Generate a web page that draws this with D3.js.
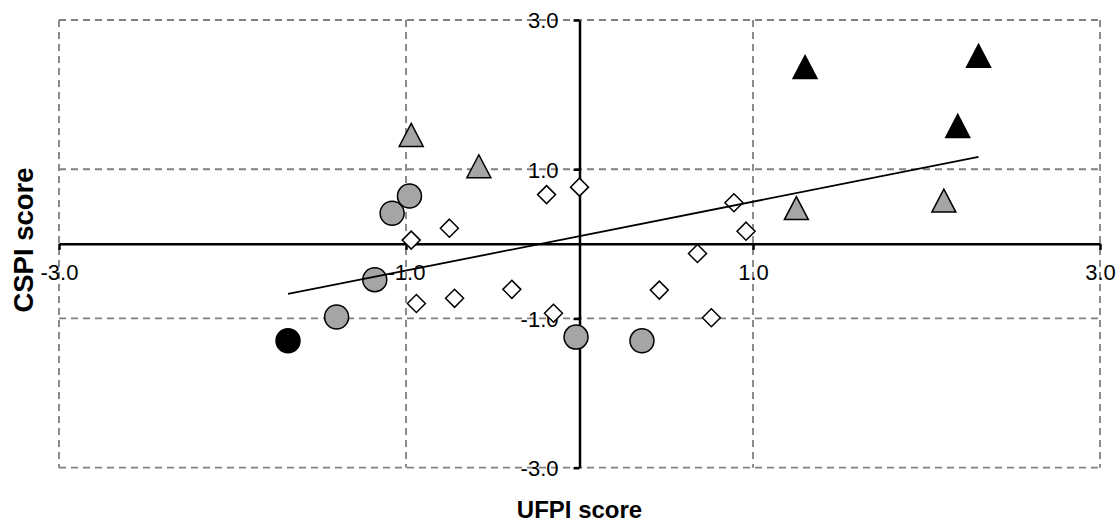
<!DOCTYPE html>
<html>
<head>
<meta charset="utf-8">
<script src="https://cdn.jsdelivr.net/npm/d3@7"></script>
<style>
  html, body { margin: 0; padding: 0; background: #fff; }
  svg { display: block; font-family: "Liberation Sans", Arial, sans-serif; }
</style>
</head>
<body>
<svg id="chart" width="1120" height="523"></svg>
<script>
// ---------------- DATA ----------------
const xTickValues = [-3, -1, 1, 3];
const xTickLabels = ["-3.0", "-1.0", "1.0", "3.0"];
const yTickValues = [-3, -1, 1, 3];
const yTickLabels = ["-3.0", "-1.0", "1.0", "3.0"];
const xTitle = "UFPI score";
const yTitle = "CSPI score";

// open diamonds
const diamondX = [-0.97, -0.75, -0.94, -0.72, -0.39, -0.19, 0.00, -0.15, 0.46, 0.68, 0.76, 0.89, 0.96];
const diamondY = [ 0.05,  0.21, -0.80, -0.73, -0.61,  0.66, 0.76, -0.93, -0.62, -0.13, -0.99, 0.55, 0.17];
// grey circles
const greyCircleX = [-1.08, -0.98, -1.18, -1.40, -0.02,  0.36];
const greyCircleY = [ 0.41,  0.64, -0.48, -0.98, -1.25, -1.30];
// black circle
const blackCircleX = [-1.68];
const blackCircleY = [-1.30];
// grey triangles
const greyTriangleX = [-0.97, -0.58, 1.25, 2.10];
const greyTriangleY = [ 1.46,  1.04, 0.48, 0.58];
// black triangles
const blackTriangleX = [1.30, 2.30, 2.18];
const blackTriangleY = [2.37, 2.52, 1.58];

// ---------------- CHART ----------------
const svg = d3.select("#chart");
const W = 1120, H = 523;
svg.append("rect").attr("width", W).attr("height", H).attr("fill", "#fff");

const x = d3.scaleLinear().domain([-3, 3]).range([59, 1100]);
const y = d3.scaleLinear().domain([-3, 3]).range([467.7, 20]);

const gridColor = "#808080";
const dash = "7,5";

// dashed grid + border
const grid = svg.append("g");
grid.selectAll("line.v").data(xTickValues).join("line")
  .attr("x1", d => x(d)).attr("x2", d => x(d))
  .attr("y1", y(3)).attr("y2", y(-3))
  .attr("stroke", gridColor).attr("stroke-width", 1.8).attr("stroke-dasharray", dash);
grid.selectAll("line.h").data(yTickValues).join("line")
  .attr("y1", d => y(d)).attr("y2", d => y(d))
  .attr("x1", x(-3)).attr("x2", x(3))
  .attr("stroke", gridColor).attr("stroke-width", 1.8).attr("stroke-dasharray", dash);

// axes crossing at zero
const xAxis = d3.axisBottom(x).tickValues(xTickValues)
  .tickFormat((d, i) => xTickLabels[i]).tickSizeInner(6).tickSizeOuter(0);
const gx = svg.append("g").attr("transform", `translate(0,${y(0)})`).call(xAxis);
gx.select(".domain").attr("stroke", "#000").attr("stroke-width", 2.5);
gx.selectAll(".tick line").attr("stroke", "#000").attr("stroke-width", 2.5);
gx.selectAll(".tick text").attr("y", 36).attr("dy", 0)
  .attr("font-size", 22).attr("fill", "#000")
  .attr("font-family", "'Liberation Sans', Arial, sans-serif");

const yAxis = d3.axisLeft(y).tickValues(yTickValues)
  .tickFormat((d, i) => yTickLabels[i]).tickSizeInner(6).tickSizeOuter(0);
const gy = svg.append("g").attr("transform", `translate(${x(0)},0)`).call(yAxis);
gy.select(".domain").attr("stroke", "#000").attr("stroke-width", 2.5);
gy.selectAll(".tick line").attr("stroke", "#000").attr("stroke-width", 2.5);
gy.selectAll(".tick text").attr("x", -21).attr("dy", "0.36em")
  .attr("font-size", 22).attr("fill", "#000")
  .attr("font-family", "'Liberation Sans', Arial, sans-serif");

// axis titles
svg.append("text")
  .attr("x", (x(-3) + x(3)) / 2).attr("y", 518)
  .attr("text-anchor", "middle").attr("font-weight", "bold")
  .attr("font-size", 24).text(xTitle);
svg.append("text")
  .attr("transform", `translate(33,${240}) rotate(-90)`)
  .attr("text-anchor", "middle").attr("font-weight", "bold")
  .attr("font-size", 27.5).text(yTitle);

// markers
const zip = (xs, ys) => xs.map((v, i) => ({ x: v, y: ys[i] }));
const marks = svg.append("g");

marks.selectAll("path.diamond").data(zip(diamondX, diamondY)).join("path")
  .attr("d", "M0,-9L9,0L0,9L-9,0Z")
  .attr("transform", d => `translate(${x(d.x)},${y(d.y)})`)
  .attr("fill", "#fff").attr("stroke", "#000").attr("stroke-width", 1.5);

marks.selectAll("circle.grey").data(zip(greyCircleX, greyCircleY)).join("circle")
  .attr("cx", d => x(d.x)).attr("cy", d => y(d.y)).attr("r", 12)
  .attr("fill", "#a5a5a5").attr("stroke", "#000").attr("stroke-width", 1.5);

marks.selectAll("circle.black").data(zip(blackCircleX, blackCircleY)).join("circle")
  .attr("cx", d => x(d.x)).attr("cy", d => y(d.y)).attr("r", 12)
  .attr("fill", "#000").attr("stroke", "#000").attr("stroke-width", 1.5);

const tri = "M0,-11.5L12,11.5L-12,11.5Z";
marks.selectAll("path.greytri").data(zip(greyTriangleX, greyTriangleY)).join("path")
  .attr("d", tri)
  .attr("transform", d => `translate(${x(d.x)},${y(d.y)})`)
  .attr("fill", "#a5a5a5").attr("stroke", "#000").attr("stroke-width", 1.5);

marks.selectAll("path.blacktri").data(zip(blackTriangleX, blackTriangleY)).join("path")
  .attr("d", tri)
  .attr("transform", d => `translate(${x(d.x)},${y(d.y)})`)
  .attr("fill", "#000").attr("stroke", "#000").attr("stroke-width", 1.5);

// linear trend line (OLS over all points)
const all = [].concat(
  zip(diamondX, diamondY), zip(greyCircleX, greyCircleY), zip(blackCircleX, blackCircleY),
  zip(greyTriangleX, greyTriangleY), zip(blackTriangleX, blackTriangleY));
const mx = d3.mean(all, d => d.x), my = d3.mean(all, d => d.y);
const sxy = d3.sum(all, d => (d.x - mx) * (d.y - my));
const sxx = d3.sum(all, d => (d.x - mx) * (d.x - mx));
const slope = sxy / sxx, icpt = my - slope * mx;
const [xmin, xmax] = d3.extent(all, d => d.x);
svg.append("path")
  .datum([xmin, xmax])
  .attr("d", d3.line().x(d => x(d)).y(d => y(icpt + slope * d)))
  .attr("fill", "none").attr("stroke", "#000").attr("stroke-width", 1.8);
</script>
</body>
</html>
